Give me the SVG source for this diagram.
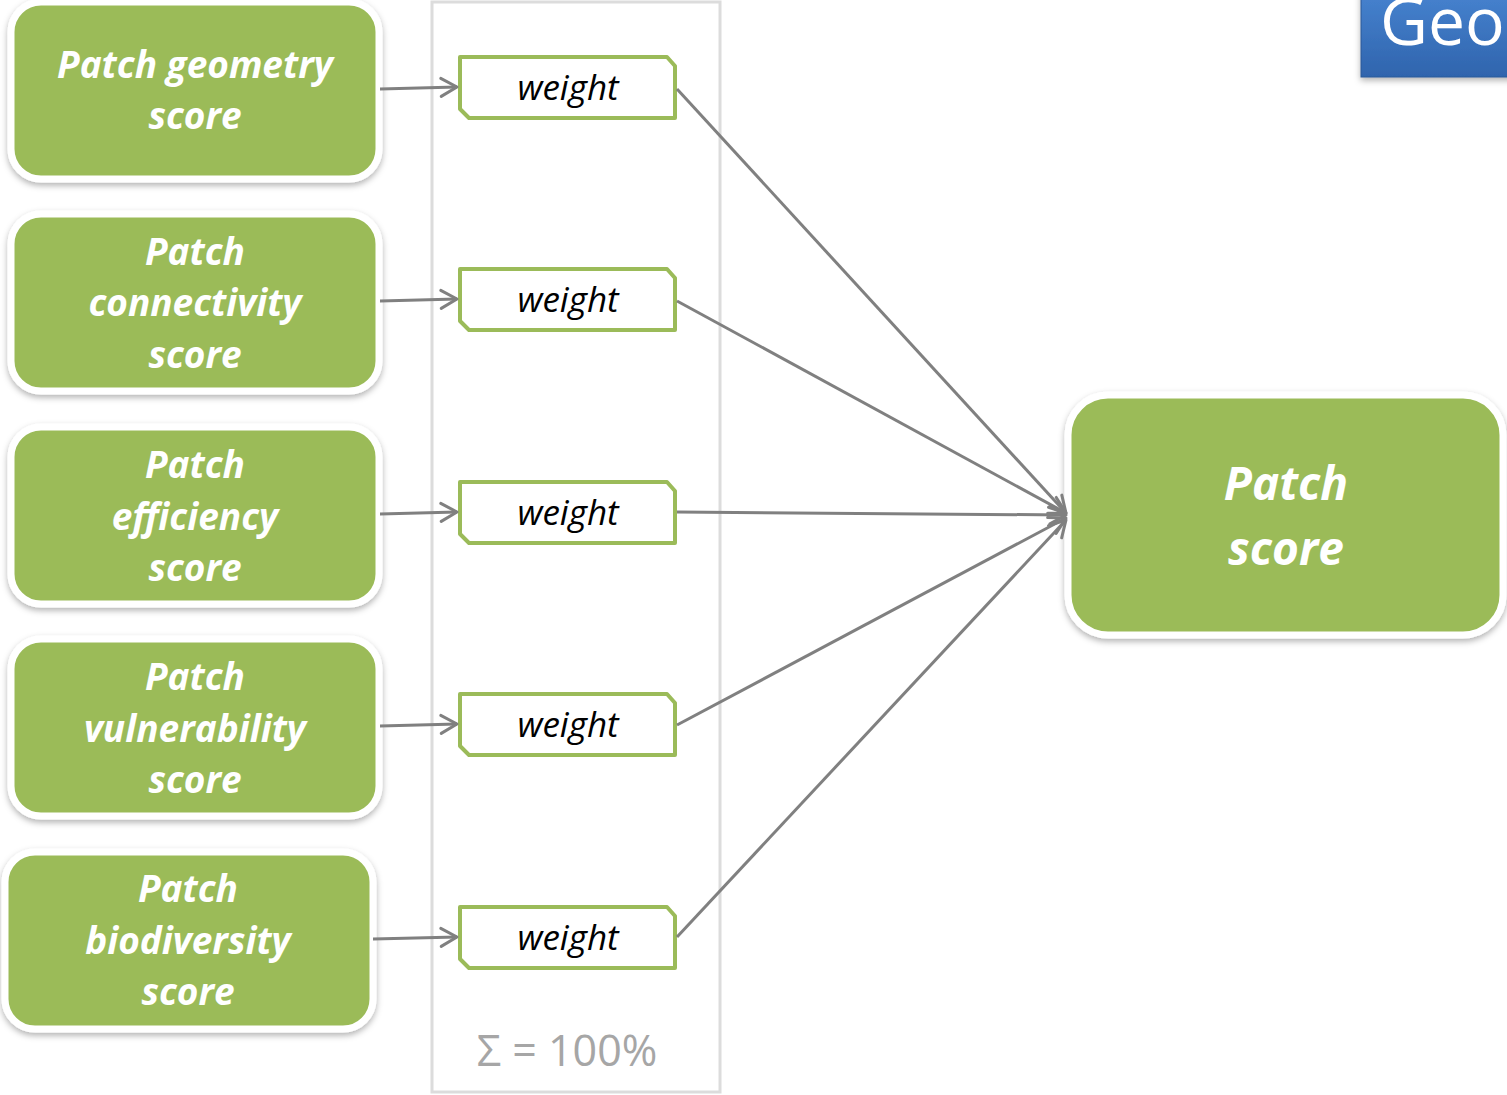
<svg xmlns="http://www.w3.org/2000/svg" width="1507" height="1095" viewBox="0 0 1507 1095">
<defs>
<style>
.node rect.g{fill:#9bbb59;stroke:#fff;stroke-width:7}
.lbl{font-family:"Open Sans","Noto Sans",sans-serif;font-weight:bold;font-style:italic;fill:#fff;text-anchor:middle}
.w path{fill:#fff;stroke:#9bbb59;stroke-width:4;stroke-linejoin:round}
.w text{font-family:"Open Sans","Noto Sans",sans-serif;font-style:italic;font-size:35px;fill:#000;text-anchor:middle}
.conn line{stroke:#808080;stroke-width:3;marker-end:url(#arr)}
</style>
<marker id="arr" viewBox="0 0 20 22" refX="18" refY="11" markerWidth="20" markerHeight="22" markerUnits="userSpaceOnUse" orient="auto" overflow="visible">
<path d="M2,2 L18,11 L2,20" fill="none" stroke="#808080" stroke-width="3" stroke-linecap="round" stroke-linejoin="round"/>
</marker>
<filter id="sh" x="-10%" y="-10%" width="120%" height="130%">
<feDropShadow dx="0" dy="3" stdDeviation="3" flood-color="#000" flood-opacity="0.3"/>
</filter>
<linearGradient id="blue" x1="0" y1="0" x2="0" y2="1">
<stop offset="0" stop-color="#4a87d4"/>
<stop offset="1" stop-color="#2f64ad"/>
</linearGradient>
</defs>
<rect width="1507" height="1095" fill="#fff"/>

<g id="title">
<rect x="1361" y="-20" width="160" height="97" fill="url(#blue)" stroke="#2a5896" stroke-width="1" filter="url(#sh)"/>
<text x="1380" y="45" font-family="Open Sans,Noto Sans,sans-serif" font-size="66" fill="#fff">Geo</text>
</g>

<g id="container">
<rect x="432" y="2" width="288" height="1090" fill="none" stroke="#dcdcdc" stroke-width="3"/>
<text x="567" y="1066" font-family="Open Sans,Noto Sans,sans-serif" font-size="43" fill="#a6a6a6" text-anchor="middle">Σ = 100%</text>
</g>

<g id="n1" class="node"><rect class="g" x="11" y="2" width="368" height="177" rx="30" filter="url(#sh)"/>
<text class="lbl" font-size="37" x="195" y="78">Patch geometry</text><text class="lbl" font-size="37" x="195" y="129">score</text></g>
<g id="n2" class="node"><rect class="g" x="11" y="214" width="368" height="177" rx="30" filter="url(#sh)"/>
<text class="lbl" font-size="37" x="195" y="265">Patch</text><text class="lbl" font-size="37" x="195" y="316">connectivity</text><text class="lbl" font-size="37" x="195" y="368">score</text></g>
<g id="n3" class="node"><rect class="g" x="11" y="427" width="368" height="177" rx="30" filter="url(#sh)"/>
<text class="lbl" font-size="37" x="195" y="478">Patch</text><text class="lbl" font-size="37" x="195" y="530">efficiency</text><text class="lbl" font-size="37" x="195" y="581">score</text></g>
<g id="n4" class="node"><rect class="g" x="11" y="639" width="368" height="177" rx="30" filter="url(#sh)"/>
<text class="lbl" font-size="37" x="195" y="690">Patch</text><text class="lbl" font-size="37" x="195" y="742">vulnerability</text><text class="lbl" font-size="37" x="195" y="793">score</text></g>
<g id="n5" class="node"><rect class="g" x="5" y="852" width="368" height="177" rx="30" filter="url(#sh)"/>
<text class="lbl" font-size="37" x="188" y="902">Patch</text><text class="lbl" font-size="37" x="188" y="954">biodiversity</text><text class="lbl" font-size="37" x="188" y="1005">score</text></g>

<g id="w1" class="w"><path d="M460,57 H667 L675,66 V118 H469 L460,109 Z"/><text x="568" y="100">weight</text></g>
<g id="w2" class="w"><path d="M460,269 H667 L675,278 V330 H469 L460,321 Z"/><text x="568" y="312">weight</text></g>
<g id="w3" class="w"><path d="M460,482 H667 L675,491 V543 H469 L460,534 Z"/><text x="568" y="525">weight</text></g>
<g id="w4" class="w"><path d="M460,694 H667 L675,703 V755 H469 L460,746 Z"/><text x="568" y="737">weight</text></g>
<g id="w5" class="w"><path d="M460,907 H667 L675,916 V968 H469 L460,959 Z"/><text x="568" y="950">weight</text></g>

<g id="out" class="node"><rect class="g" x="1068" y="395" width="435" height="240" rx="40" filter="url(#sh)"/>
<text class="lbl" font-size="46" x="1286" y="500">Patch</text><text class="lbl" font-size="46" x="1286" y="565">score</text></g>

<g id="connectors" class="conn">
<line x1="380" y1="89" x2="457" y2="87"/>
<line x1="380" y1="301" x2="457" y2="299"/>
<line x1="380" y1="514" x2="457" y2="512"/>
<line x1="380" y1="726" x2="457" y2="724"/>
<line x1="373" y1="939" x2="457" y2="937"/>
<line x1="677" y1="89" x2="1066" y2="513"/>
<line x1="677" y1="301" x2="1066" y2="513"/>
<line x1="677" y1="512" x2="1066" y2="515"/>
<line x1="677" y1="725" x2="1066" y2="518"/>
<line x1="677" y1="937" x2="1066" y2="520"/>
</g>
</svg>
